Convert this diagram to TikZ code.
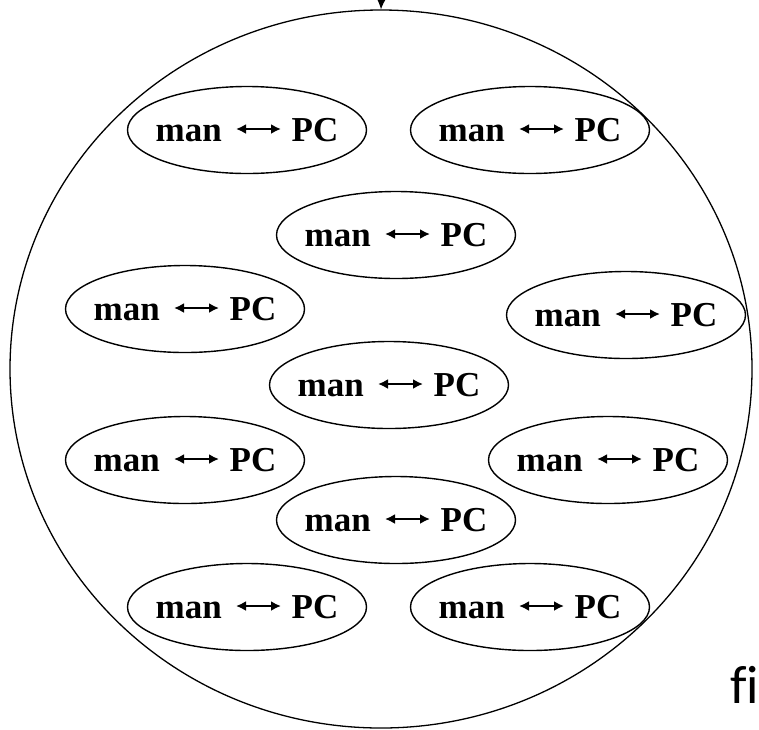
\documentclass[tikz,border=0pt]{standalone}
\usepackage{fontspec}
\setmainfont{Liberation Serif}
\newfontfamily\labelsans[Ligatures=CommonOff]{Carlito}
\usetikzlibrary{shapes.geometric,arrows.meta}

\newcommand{\manpc}{\makebox[0pt]{man\hspace{70pt}PC}}

\begin{document}
\begin{tikzpicture}[x=1pt,y=-1pt,
  pair/.style={draw,ellipse,line width=1.4pt,minimum width=239pt,minimum height=87pt,
    inner sep=0pt,font=\bfseries\fontsize{35}{40}\selectfont,
    path picture={\draw[{Latex[length=10pt,width=10pt]}-{Latex[length=10pt,width=10pt]},line width=2pt]
      ([shift={(-11,-1)}]path picture bounding box.center) -- ++(45,0);}},
  world/.style={draw,ellipse,line width=1.3pt,minimum width=742pt,minimum height=718pt,inner sep=0pt}]
\useasboundingbox (0,0) rectangle (759,729);

% the big circle and what enters it
\node[world] (ring) at (381,369) {};
\coordinate (feed) at (382,-20);
\draw[-{Latex[length=12pt,width=11pt]},line width=1.2pt] (feed) -- (ring.north);

% the pairs
\node[pair] (p1) at (247,130) {\manpc};
\node[pair] (p2) at (530,130) {\manpc};
\node[pair] (p3) at (396,235) {\manpc};
\node[pair] (p4) at (185,309) {\manpc};
\node[pair] (p5) at (626,315) {\manpc};
\node[pair] (p6) at (389,385) {\manpc};
\node[pair] (p7) at (185,460) {\manpc};
\node[pair] (p8) at (608,460) {\manpc};
\node[pair] (p9) at (396,520) {\manpc};
\node[pair] (p10) at (247,607) {\manpc};
\node[pair] (p11) at (530,607) {\manpc};

\node[anchor=base west,inner sep=0pt,font=\labelsans\fontsize{54}{60}\selectfont] (figlabel) at (730,703) {fi};
\end{tikzpicture}
\end{document}
